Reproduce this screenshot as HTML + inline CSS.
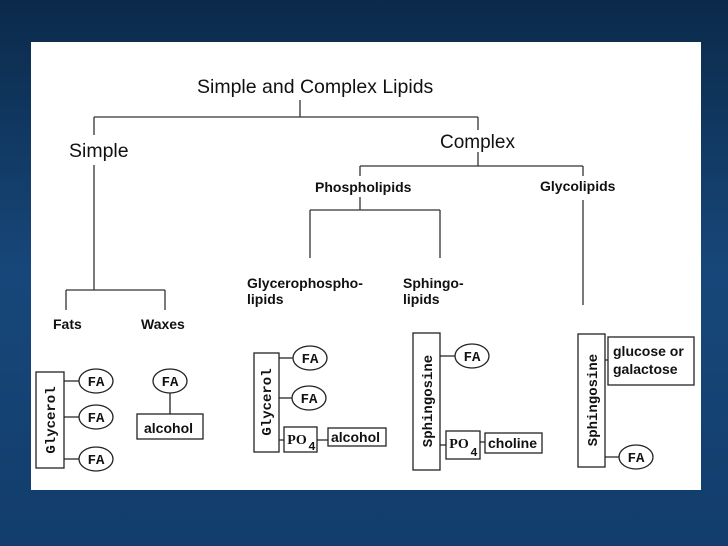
<!DOCTYPE html>
<html><head><meta charset="utf-8"><style>
html,body{margin:0;padding:0;width:728px;height:546px;overflow:hidden;background:#123a66}
svg{display:block}
</style></head><body>
<svg width="728" height="546" viewBox="0 0 728 546" xmlns="http://www.w3.org/2000/svg">
<defs>
<linearGradient id="bg" x1="0" y1="0" x2="0" y2="1">
<stop offset="0" stop-color="#0b2a4a"/><stop offset="0.5" stop-color="#17477a"/><stop offset="1" stop-color="#123d6c"/>
</linearGradient>
</defs>
<rect width="728" height="546" fill="url(#bg)"/>
<rect x="31" y="42" width="670" height="448" fill="#fff"/>
<g stroke="#333" stroke-width="1.3" fill="none">
<path d="M300 100V117M94 117H478M94 117V135M478 117V130"/>
<path d="M478 152V166M360 166H583M360 166V176M583 166V176"/>
<path d="M360 197V210M310 210H440M310 210V258M440 210V258"/>
<path d="M583 200V305"/>
<path d="M94 165V290M66 290H165M66 290V310M165 290V310"/>
</g>
<g stroke="#222" stroke-width="1.3" fill="#fff">
<rect x="36" y="372" width="28" height="96"/>
<rect x="137" y="414" width="66" height="25"/>
<rect x="254" y="353" width="25" height="99"/>
<rect x="284" y="427" width="33" height="25"/>
<rect x="328" y="428" width="58" height="18"/>
<rect x="413" y="333" width="27" height="137"/>
<rect x="446" y="431" width="34" height="28"/>
<rect x="485" y="433" width="57" height="20"/>
<rect x="578" y="334" width="27" height="133"/>
<rect x="608" y="337" width="86" height="48"/>
</g>
<g font-family="Liberation Sans, sans-serif" fill="#111">
<text x="197" y="93" font-size="19.5">Simple and Complex Lipids</text>
<text x="69" y="157" font-size="19.5">Simple</text>
<text x="440" y="148" font-size="19">Complex</text>
<g font-size="14" font-weight="bold">
<text x="315" y="192">Phospholipids</text>
<text x="540" y="191">Glycolipids</text>
<text x="247" y="288">Glycerophospho-</text>
<text x="247" y="304">lipids</text>
<text x="403" y="288">Sphingo-</text>
<text x="403" y="304">lipids</text>
<text x="53" y="329">Fats</text>
<text x="141" y="329">Waxes</text>
<text x="144" y="433">alcohol</text>
<text x="331" y="442">alcohol</text>
<text x="488" y="448">choline</text>
<text x="613" y="356">glucose or</text>
<text x="613" y="374">galactose</text>
</g>
</g>
<g stroke="#222" stroke-width="1.3" fill="none">
<path d="M64 381H79M64 417H79M64 459H79M170 392V414M279 358H293M279 398H292M279 440H284M317 440H328M440 356H455M440 445H446M480 442H485M605 360H608M605 457H619"/>
</g>
<g stroke="#222" stroke-width="1.3" fill="#fff">
<ellipse cx="96" cy="381" rx="17" ry="12"/>
<ellipse cx="96" cy="417" rx="17" ry="12"/>
<ellipse cx="96" cy="459" rx="17" ry="12"/>
<ellipse cx="170" cy="381" rx="17" ry="12"/>
<ellipse cx="310" cy="358" rx="17" ry="12"/>
<ellipse cx="309" cy="398" rx="17" ry="12"/>
<ellipse cx="472" cy="356" rx="17" ry="12"/>
<ellipse cx="636" cy="457" rx="17" ry="12"/>
</g>
<g font-family="Liberation Mono, monospace" font-weight="bold" font-size="14" fill="#111" text-anchor="middle">
<text x="96" y="386">FA</text><text x="96" y="422">FA</text><text x="96" y="464">FA</text>
<text x="170" y="386">FA</text><text x="310" y="363">FA</text><text x="309" y="403">FA</text>
<text x="472" y="361">FA</text><text x="636" y="462">FA</text>
<text transform="translate(55 420) rotate(-90)">Glycerol</text>
<text transform="translate(271 402) rotate(-90)">Glycerol</text>
<text transform="translate(432 401) rotate(-90)">Sphingosine</text>
<text transform="translate(597 400) rotate(-90)">Sphingosine</text>
<text x="297" y="444" font-family="Liberation Serif, serif">PO</text>
<text x="312" y="450" font-size="12">4</text>
<text x="459" y="448" font-family="Liberation Serif, serif">PO</text>
<text x="474" y="456" font-size="12">4</text>
</g>
</svg>
</body></html>
